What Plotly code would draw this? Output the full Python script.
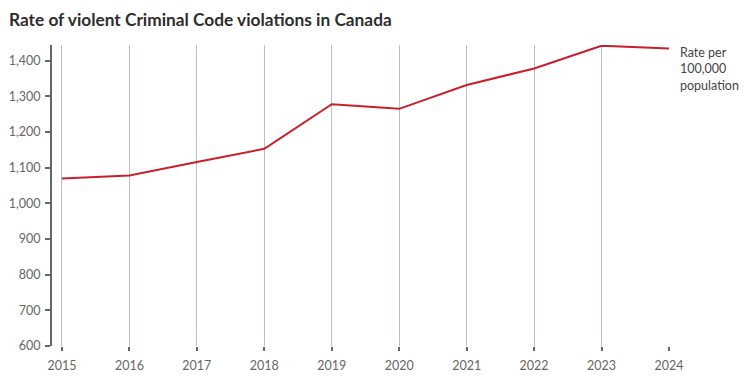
import plotly.graph_objects as go

years = [2015, 2016, 2017, 2018, 2019, 2020, 2021, 2022, 2023, 2024]
rate = [1070, 1078, 1116, 1153, 1278, 1265, 1332, 1378, 1442, 1434]
ytick_vals = [600, 700, 800, 900, 1000, 1100, 1200, 1300, 1400]
ytick_text = ["600", "700", "800", "900", "1,000", "1,100", "1,200", "1,300", "1,400"]
title = "Rate of violent Criminal Code violations in Canada"
series_label = "Rate per<br>100,000<br>population"

FONT = "Lato, 'Noto Sans', sans-serif"

# page body has an 8px default margin, so the figure is sized to fit inside it
W, H = 739, 374

fig = go.Figure()
fig.add_trace(go.Scatter(
    x=years, y=rate, mode="lines",
    line=dict(color="#c8202a", width=2),
    hoverinfo="x+y", showlegend=False,
))

fig.update_layout(
    width=W, height=H,
    margin=dict(l=44, r=78, t=37, b=36, autoexpand=False),
    paper_bgcolor="white", plot_bgcolor="white",
    font=dict(family=FONT, size=12.5, color="#666666"),
    title=dict(text="<b>" + title + "</b>", x=1/W, xref="container", xanchor="left",
               y=1 - 12/H, yref="container", yanchor="middle",
               font=dict(family=FONT, size=17.3, color="#2e2e2e")),
    showlegend=False,
)

fig.update_xaxes(
    range=[2014.852, 2024.0], tickvals=years, ticktext=[str(y) for y in years],
    showgrid=True, gridcolor="#b4c0ca", gridwidth=1,
    showline=False, zeroline=False, automargin=False,
    ticks="outside", ticklen=4, tickwidth=2, tickcolor="#666666",
    ticklabelstandoff=4,
    tickfont=dict(size=12.5, color="#666666"),
)
fig.update_yaxes(
    range=[600, 1444], tickvals=ytick_vals, ticktext=ytick_text,
    showgrid=False, zeroline=False, automargin=False,
    showline=True, linecolor="#666666", linewidth=2,
    ticks="outside", ticklen=5, tickwidth=2, tickcolor="#666666",
    ticklabelstandoff=2,
    tickfont=dict(size=12.5, color="#666666"),
)

fig.add_annotation(
    text=series_label, xref="paper", yref="paper", x=1, y=1,
    xanchor="left", yanchor="top", xshift=9, yshift=2,
    align="left", showarrow=False,
    font=dict(family=FONT, size=12.5, color="#444444"),
)

fig.write_html("out.html")
